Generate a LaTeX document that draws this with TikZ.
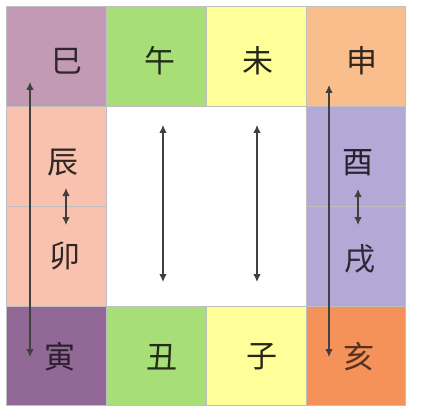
\documentclass[tikz,border=0pt]{standalone}
\usepackage{fontspec}
\newfontfamily\cjk{Noto Sans CJK SC}
\usetikzlibrary{arrows.meta}
\usepackage{xcolor}
\definecolor{siC}{HTML}{C29AB3}
\definecolor{wuC}{HTML}{A8DE78}
\definecolor{weiC}{HTML}{FFFF99}
\definecolor{shenC}{HTML}{FABE8C}
\definecolor{chenC}{HTML}{F9C2AF}
\definecolor{youC}{HTML}{B4A8D6}
\definecolor{yinC}{HTML}{926896}
\definecolor{haiC}{HTML}{F5925A}

\begin{document}
\begin{tikzpicture}[x=1pt,y=-1pt,
    cell/.style={draw=black!25,line width=0.6pt},
    zhi/.style={font=\cjk\fontsize{31}{31}\selectfont},
    link/.style={{Latex[length=8pt,width=7.5pt]}-{Latex[length=8pt,width=7.5pt]},line width=1.1pt,draw=black!75}]
                \useasboundingbox(0,0)rectangle(422,414);
                \fill[white](0,0)rectangle(422,414);
                \filldraw[cell,fill=siC](6,6)rectangle(106,106);
                \filldraw[cell,fill=wuC](106,6)rectangle(206,106);
                \filldraw[cell,fill=weiC](206,6)rectangle(306,106);
                \filldraw[cell,fill=shenC](306,6)rectangle(405,106);
                \filldraw[cell,fill=chenC](6,106)rectangle(106,206);
                \filldraw[cell,fill=chenC](6,206)rectangle(106,306);
                \filldraw[cell,fill=youC](306,106)rectangle(405,206);
                \filldraw[cell,fill=youC](306,206)rectangle(405,306);
                \filldraw[cell,fill=yinC](6,306)rectangle(106,405);
                \filldraw[cell,fill=wuC](106,306)rectangle(206,405);
                \filldraw[cell,fill=weiC](206,306)rectangle(306,405);
                \filldraw[cell,fill=haiC](306,306)rectangle(405,405);
                \node[zhi,text=siC!25!black] (si) at (67,61){巳};
                \node[zhi,text=wuC!20!black] (wu) at (160,61){午};
                \node[zhi,text=weiC!15!black] (wei) at (258,61){未};
                \node[zhi,text=shenC!20!black] (shen) at (362,61){申};
                \node[zhi,text=chenC!20!black] (chen) at (63,163){辰};
                \node[zhi,text=youC!20!black] (you) at (358,163){酉};
                \node[zhi,text=chenC!20!black] (mao) at (65,256){卯};
                \node[zhi,text=youC!25!black] (xu) at (360,259){戌};
                \node[zhi,text=yinC!30!black] (yin) at (60,357){寅};
                \node[zhi,text=wuC!20!black] (chou) at (162,357){丑};
                \node[zhi,text=weiC!15!black] (zi) at (262,357){子};
                \node[zhi,text=haiC!35!black] (hai) at (359,357){亥};
                \coordinate (siEnd) at (30,82);
                \coordinate (yinEnd) at (30,357);
                \coordinate (chenEnd) at (66,188);
                \coordinate (maoEnd) at (66,225);
                \coordinate (wuEnd) at (163,125);
                \coordinate (chouEnd) at (163,282);
                \coordinate (weiEnd) at (257,125);
                \coordinate (ziEnd) at (257,282);
                \coordinate (shenEnd) at (329,85);
                \coordinate (haiEnd) at (329,357);
                \coordinate (youEnd) at (358,189);
                \coordinate (xuEnd) at (358,225);
                \draw[link](siEnd)--(yinEnd);
                \draw[link](chenEnd)--(maoEnd);
                \draw[link](wuEnd)--(chouEnd);
                \draw[link](weiEnd)--(ziEnd);
                \draw[link](shenEnd)--(haiEnd);
                \draw[link](youEnd)--(xuEnd);
            \end{tikzpicture}
\end{document}
